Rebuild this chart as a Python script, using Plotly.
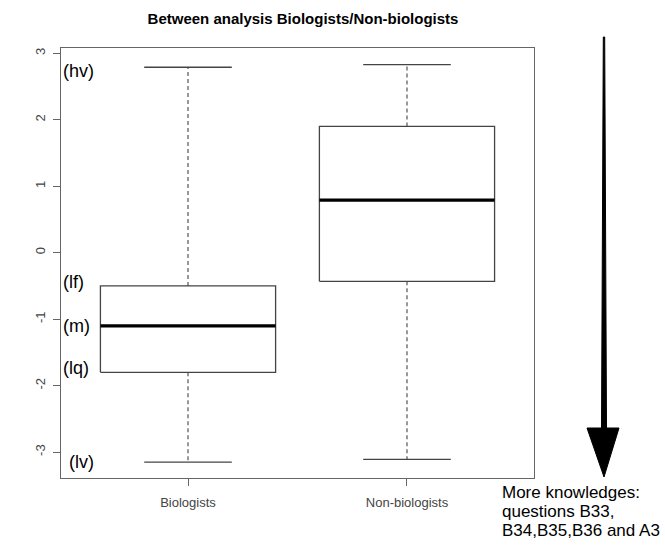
import plotly.graph_objects as go

# ---- data ----
categories = ["Biologists", "Non-biologists"]
lower_whisker = [-3.15, -3.11]
q1 = [-1.80, -0.43]
median = [-1.10, 0.79]
q3 = [-0.50, 1.90]
upper_whisker = [2.79, 2.83]
y_ticks = [-3, -2, -1, 0, 1, 2, 3]
side_labels = ["(hv)", "(lf)", "(m)", "(lq)", "(lv)"]
note_lines = ["More knowledges:", "questions B33,", "B34,B35,B36 and A3"]

W, H = 665, 546
L, R, T, B = 61, 131, 48, 68
PW, PH = W - L - R, H - T - B

def px(x):
    return (x - L) / PW

def py(y):
    return (H - B - y) / PH

BOX_COL = "#444444"
HALF = 0.4
CAP = 0.2

fig = go.Figure()
for i, cat in enumerate(categories):
    c = i + 1
    # whiskers (dashed)
    fig.add_trace(go.Scatter(
        x=[c, c, None, c, c],
        y=[q3[i], upper_whisker[i], None, q1[i], lower_whisker[i]],
        mode="lines", line=dict(color="#555555", width=1.2, dash="4px,3px"),
        showlegend=False, hoverinfo="skip"))
    # caps
    fig.add_trace(go.Scatter(
        x=[c - CAP, c + CAP, None, c - CAP, c + CAP],
        y=[upper_whisker[i], upper_whisker[i], None, lower_whisker[i], lower_whisker[i]],
        mode="lines", line=dict(color=BOX_COL, width=1.3),
        showlegend=False, hoverinfo="skip"))
    # box
    fig.add_trace(go.Scatter(
        x=[c - HALF, c + HALF, c + HALF, c - HALF, c - HALF],
        y=[q1[i], q1[i], q3[i], q3[i], q1[i]],
        mode="lines", line=dict(color=BOX_COL, width=1.3),
        showlegend=False, hoverinfo="skip"))
    # median
    fig.add_trace(go.Scatter(
        x=[c - HALF, c + HALF], y=[median[i], median[i]],
        mode="lines", line=dict(color="black", width=3.2),
        showlegend=False, hoverinfo="skip"))

fig.update_layout(
    width=W, height=H,
    margin=dict(l=L, r=R, t=T, b=B),
    paper_bgcolor="white", plot_bgcolor="white",
    font=dict(family="Liberation Sans, Arial, sans-serif", color="#333333"),
    title=dict(text="<b>Between analysis Biologists/Non-biologists</b>",
               x=303 / W, xanchor="center", xref="container",
               y=1 - 19 / H, yanchor="middle", yref="container",
               font=dict(size=15, color="black")),
    showlegend=False,
)
fig.update_xaxes(
    range=[0.42, 2.58], tickvals=[1, 2], ticktext=categories,
    showline=True, linecolor="#666666", linewidth=1.3, mirror=True,
    ticks="outside", ticklen=7, tickcolor="#666666", tickwidth=1.2,
    ticklabelstandoff=5,
    showgrid=False, zeroline=False, tickfont=dict(size=13, color="#444444"))
fig.update_yaxes(
    range=[-3.39, 3.08], tickvals=y_ticks, ticktext=[str(v) for v in y_ticks],
    tickangle=-90,
    showline=True, linecolor="#666666", linewidth=1.3, mirror=True,
    ticks="outside", ticklen=7, tickcolor="#666666", tickwidth=1.2,
    ticklabelstandoff=3,
    showgrid=False, zeroline=False, tickfont=dict(size=13, color="#444444"))

# side labels
label_pos = [(61, 71), (61, 282), (61, 326), (61, 368), (67, 462)]
for txt, (x, y) in zip(side_labels, label_pos):
    fig.add_annotation(text=txt, xref="paper", yref="paper", x=px(x), y=py(y),
                       xanchor="left", yanchor="middle", showarrow=False,
                       font=dict(size=18, color="black"))

# arrow on the right (decoration)
ax = 604
path = (f"M {px(ax-0.7)},{py(37)} L {px(ax+0.7)},{py(37)} "
        f"L {px(ax+2.5)},{py(428)} L {px(619)},{py(428)} L {px(ax)},{py(477)} "
        f"L {px(587)},{py(428)} L {px(ax-2.5)},{py(428)} Z")
fig.add_shape(type="path", path=path, xref="paper", yref="paper",
              fillcolor="black", line=dict(color="black", width=1))

for k, line in enumerate(note_lines):
    fig.add_annotation(text=line, xref="paper", yref="paper",
                       x=px(500), y=py(492 + 19 * k),
                       xanchor="left", yanchor="middle", showarrow=False,
                       font=dict(size=17, color="black"))

fig.write_html("out.html")
